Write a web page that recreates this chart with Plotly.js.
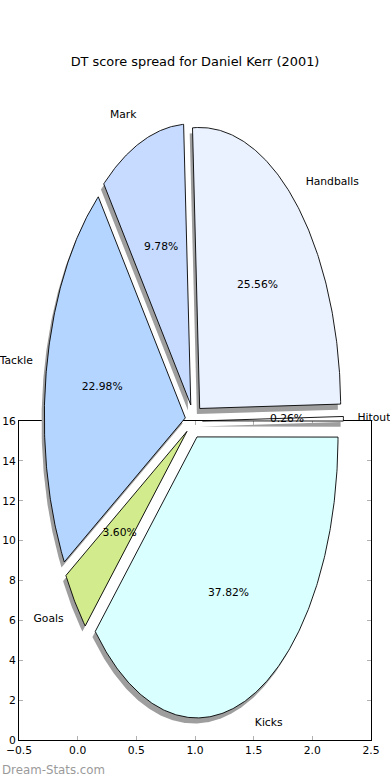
<!DOCTYPE html>
<html>
<head>
<meta charset="utf-8">
<script src="https://cdn.plot.ly/plotly-3.0.1.min.js"></script>
<style>
  html, body { margin: 0; padding: 0; background: #ffffff; }
  #chart { width: 390px; height: 780px; }
</style>
</head>
<body>
<div id="chart"></div>
<script>
// ---- data ----
const categories = ['Handballs', 'Mark', 'Tackle', 'Goals', 'Kicks', 'Hitout'];
const shares = [25.56, 9.78, 22.98, 3.60, 37.82, 0.26];
const sliceColors = ['#ebf2ff', '#c6dbff', '#b4d5ff', '#d2eb8c', '#d9ffff', '#ffffff'];
const xTickVals = [-0.5, 0.0, 0.5, 1.0, 1.5, 2.0, 2.5];
const yTickVals = [0, 2, 4, 6, 8, 10, 12, 14, 16];
const chartTitle = 'DT score spread for Daniel Kerr (2001)';
const watermark = 'Dream-Stats.com';

// ---- geometry (pixel space of the overlay axes) ----
const W = 390, H = 780;
const CX = 193.8, CY = 421, RX = 141, RY = 281;
const START_ANGLE = 0.9;
const EXPLODE = 0.061;
const SHX = -2.8, SHY = 5.6;
const FONT = 'DejaVu Sans, Liberation Sans, sans-serif';

const total = shares.reduce((a, b) => a + b, 0);
const rad = d => d * Math.PI / 180;

const shadowTraces = [];
const sliceTraces = [];
const labelX = [], labelY = [], labelPos = [];
const pctX = [], pctY = [], pctText = [];

let a0 = START_ANGLE;
shares.forEach((v, i) => {
  const a1 = a0 + 360 * v / total;
  const m = rad((a0 + a1) / 2);
  const ox = CX + EXPLODE * RX * Math.cos(m);
  const oy = CY - EXPLODE * RY * Math.sin(m);
  const xs = [ox], ys = [oy];
  const n = Math.max(2, Math.ceil((a1 - a0) / 0.5));
  for (let k = 0; k <= n; k++) {
    const t = rad(a0 + (a1 - a0) * k / n);
    xs.push(ox + RX * Math.cos(t));
    ys.push(oy - RY * Math.sin(t));
  }
  xs.push(ox); ys.push(oy);

  shadowTraces.push({
    type: 'scatter', mode: 'lines', xaxis: 'x2', yaxis: 'y2',
    x: xs.map(p => p + SHX), y: ys.map(p => p + SHY),
    fill: 'toself', fillcolor: '#9e9e9e',
    line: { width: 0, color: 'rgba(0,0,0,0)' }, hoverinfo: 'skip', showlegend: false
  });
  sliceTraces.push({
    type: 'scatter', mode: 'lines', xaxis: 'x2', yaxis: 'y2',
    x: xs, y: ys, fill: 'toself', fillcolor: sliceColors[i],
    line: { width: 0.9, color: '#000000' }, hoverinfo: 'skip', showlegend: false
  });

  labelX.push(ox + 1.1 * RX * Math.cos(m));
  labelY.push(oy - 1.1 * RY * Math.sin(m));
  labelPos.push(Math.cos(m) > 0 ? 'middle right' : 'middle left');
  pctX.push(ox + 0.6 * RX * Math.cos(m));
  pctY.push(oy - 0.6 * RY * Math.sin(m));
  pctText.push((100 * v / total).toFixed(2) + '%');
  a0 = a1;
});

const labelTrace = {
  type: 'scatter', mode: 'text', xaxis: 'x2', yaxis: 'y2',
  x: labelX, y: labelY, text: categories, textposition: labelPos,
  textfont: { family: FONT, size: 10.75, color: '#000000' },
  hoverinfo: 'skip', showlegend: false, cliponaxis: false
};
const pctTrace = {
  type: 'scatter', mode: 'text', xaxis: 'x2', yaxis: 'y2',
  x: pctX, y: pctY, text: pctText, textposition: 'middle center',
  textfont: { family: FONT, size: 10.75, color: '#000000' },
  hoverinfo: 'skip', showlegend: false, cliponaxis: false
};
// invisible trace to give the framed axes a presence
const frameTrace = {
  type: 'scatter', mode: 'markers', x: [xTickVals[0]], y: [yTickVals[0]],
  marker: { size: 0.1, color: 'rgba(0,0,0,0)' }, hoverinfo: 'skip', showlegend: false
};

const axisCommon = {
  showgrid: false, zeroline: false, showline: true, linecolor: '#000000', linewidth: 1,
  mirror: 'ticks', ticks: 'inside', ticklen: 4, tickwidth: 1, tickcolor: '#b0b0b0',
  tickfont: { family: FONT, size: 10.75, color: '#000000' }, fixedrange: true
};

const layout = {
  width: W, height: H, autosize: false,
  margin: { l: 0, r: 0, t: 0, b: 0, pad: 0 },
  paper_bgcolor: '#ffffff', plot_bgcolor: 'rgba(0,0,0,0)',
  showlegend: false,
  title: {
    text: chartTitle, x: 0.5, xanchor: 'center', y: 1 - 61 / H, yanchor: 'middle',
    xref: 'paper', yref: 'paper',
    font: { family: FONT, size: 12.9, color: '#000000' }
  },
  xaxis: Object.assign({}, axisCommon, {
    domain: [19 / W, 371 / W], range: [-0.5, 2.5], tickvals: xTickVals,
    tickformat: '.1f', anchor: 'y'
  }),
  yaxis: Object.assign({}, axisCommon, {
    domain: [1 - 740 / H, 1 - 421 / H], range: [0, 16], tickvals: yTickVals,
    tickformat: 'd', anchor: 'x'
  }),
  xaxis2: { domain: [0, 1], range: [0, W], visible: false, anchor: 'y2', fixedrange: true },
  yaxis2: { domain: [0, 1], range: [H, 0], visible: false, anchor: 'x2', fixedrange: true },
  annotations: [{
    text: watermark, xref: 'paper', yref: 'paper', x: 0, y: 1 - 770 / H,
    xanchor: 'left', yanchor: 'middle', showarrow: false,
    font: { family: FONT, size: 11.8, color: '#9a9a9a' }
  }]
};

Plotly.newPlot('chart',
  [frameTrace].concat(shadowTraces, sliceTraces, [pctTrace, labelTrace]),
  layout, { staticPlot: true, displayModeBar: false });
</script>
</body>
</html>
